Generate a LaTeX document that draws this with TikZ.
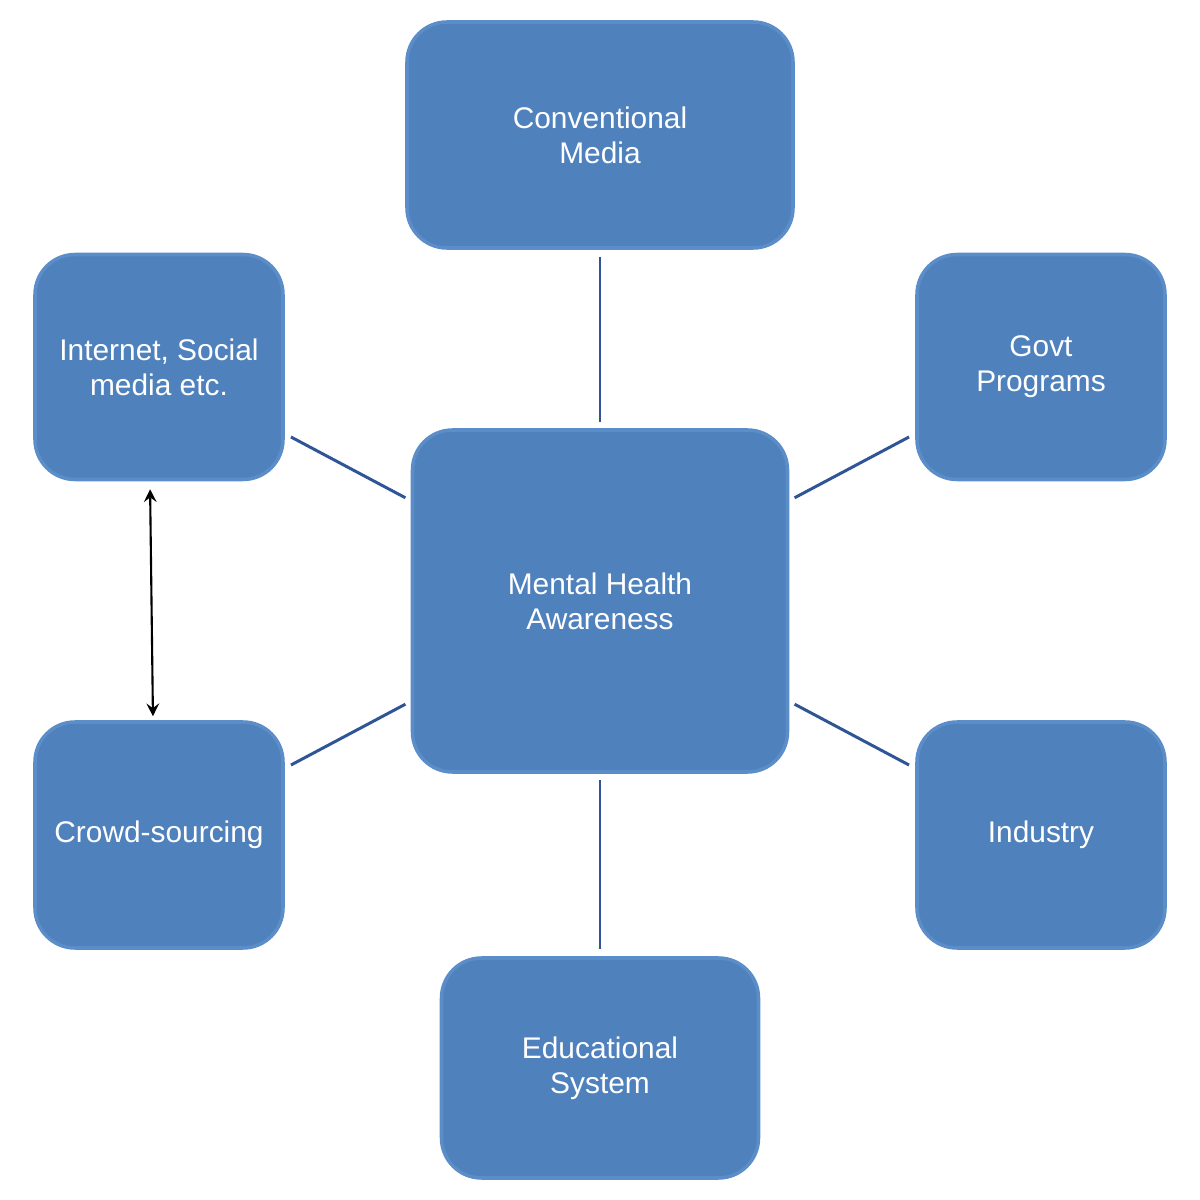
\documentclass[tikz,border=0pt]{standalone}
\usepackage{fontspec}
\setmainfont{Liberation Sans}
\definecolor{boxblue}{HTML}{4F81BD}
\definecolor{boxedge}{HTML}{5B8DC8}
\definecolor{linkblue}{HTML}{2F5597}
\tikzset{
  topic/.style={draw=boxedge, line width=1pt, fill=boxblue, rounded corners=0.4cm,
    text=white, align=center, font=\fontsize{8.5}{10}\selectfont, inner sep=0pt},
  link/.style={draw=linkblue, line width=0.85pt, shorten <=0.07cm, shorten >=0.06cm}
}
\begin{document}
\begin{tikzpicture}
\useasboundingbox (0,0) rectangle (12,12);

% Knooppunten
\node[topic, minimum width=3.75cm, minimum height=3.42cm] (mha) at (6,5.99) {Mental Health\\Awareness};
\node[topic, minimum width=3.86cm, minimum height=2.26cm] (media) at (6,10.65) {Conventional\\Media};
\node[topic, minimum width=2.48cm, minimum height=2.25cm] (inet) at (1.59,8.33) {Internet, Social\\media etc.};
\node[topic, minimum width=2.48cm, minimum height=2.25cm] (govt) at (10.41,8.33) {Govt\\Programs};
\node[topic, minimum width=2.48cm, minimum height=2.26cm] (crowd) at (1.59,3.65) {Crowd-sourcing};
\node[topic, minimum width=2.48cm, minimum height=2.26cm] (ind) at (10.41,3.65) {Industry};
\node[topic, minimum width=3.17cm, minimum height=2.2cm] (edu) at (6,1.32) {Educational\\System};

% Verbindingen
\foreach \n in {media,inet,govt,crowd,ind,edu}
  \draw[link] (\n) -- (mha);

% Pijl tussen internet en crowd-sourcing
\draw[black, line width=0.6pt, <->, >=stealth, shorten <=0.08cm, shorten >=0.04cm]
  ([xshift=-0.09cm]inet.south) -- ([xshift=-0.06cm]crowd.north);
\end{tikzpicture}
\end{document}
